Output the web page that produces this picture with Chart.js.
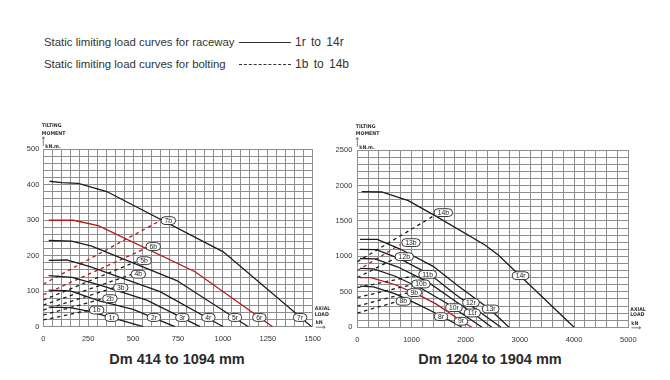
<!DOCTYPE html>
<html><head><meta charset="utf-8">
<script src="https://cdn.jsdelivr.net/npm/chart.js@4.4.0/dist/chart.umd.min.js"></script>
<style>
body{margin:0;width:670px;height:380px;background:#fff;position:relative;overflow:hidden;font-family:"Liberation Sans",Arial,sans-serif;}
.leg{position:absolute;font-size:11.4px;line-height:12px;color:#333;white-space:nowrap;}
.rng{font-size:12px;word-spacing:2px;}
.ttl{position:absolute;font-size:14.5px;line-height:16px;font-weight:bold;color:#2a2a2a;text-align:center;white-space:nowrap;}
canvas{position:absolute;top:0;}
</style></head><body>
<div class="leg" style="left:44px;top:35.5px">Static limiting load curves for raceway</div>
<div style="position:absolute;left:239px;top:42px;width:52px;border-top:1px solid #333"></div>
<div class="leg rng" style="left:295px;top:35.5px">1r to 14r</div>
<div class="leg" style="left:44px;top:58px">Static limiting load curves for bolting</div>
<div style="position:absolute;left:239px;top:64px;width:52px;border-top:1px dashed #333"></div>
<div class="leg rng" style="left:295px;top:58px">1b to 14b</div>
<div class="ttl" style="left:97px;width:160px;top:351px">Dm 414 to 1094 mm</div>
<div class="ttl" style="left:410px;width:160px;top:351px">Dm 1204 to 1904 mm</div>
<div style="position:absolute;left:0;top:0;width:335px;height:380px"><canvas id="c1"></canvas></div>
<div style="position:absolute;left:335px;top:0;width:335px;height:380px"><canvas id="c2"></canvas></div>
<script>
// ---- Left chart data (axial load kN, tilting moment kN.m) ----
const leftXTicks=[0,250,500,750,1000,1250,1500];
const leftYTicks=[0,100,200,300,400,500];
const r1=[[30,55],[150,54],[250,44],[370,27],[557,0]];
const r2=[[30,103],[150,101],[316,72],[500,49],[733,0]];
const r3=[[30,144],[160,139],[316,117],[576,75],[873,0]];
const r4=[[30,187],[130,188],[260,169],[650,99],[1002,0]];
const r5=[[30,243],[158,241],[269,227],[743,130],[1142,0]];
const r6=[[30,300],[167,300],[306,285],[845,155],[1277,0]];
const r7=[[35,410],[102,406],[195,404],[353,381],[1002,211],[1494,0]];
const b1=[[0,19],[262,47]];
const b2=[[0,33],[335,79]];
const b3=[[0,47],[395,110]];
const b4=[[0,61],[495,148]];
const b5=[[0,75],[515,183]];
const b6=[[0,90],[575,222]];
const b7=[[0,120],[640,296]];
const leftLabels=[['1r',381,26],['2r',616,26],['3r',774,26],['4r',919,26],['5r',1067,26],['6r',1203,26],['7r',1430,26],
 ['1b',297,47],['2b',371,79],['3b',431,110],['4b',529,148],['5b',561,186],['6b',612,226],['7b',696,299]];

// ---- Right chart data ----
const rightXTicks=[0,1000,2000,3000,4000,5000];
const rightYTicks=[0,500,1000,1500,2000,2500];
const r8=[[50,580],[300,570],[700,470],[1100,330],[1550,160],[1930,0]];
const r9=[[50,700],[250,700],[700,600],[1150,450],[1450,330],[1900,100],[2110,0]];
const r10=[[50,830],[300,825],[700,720],[1200,540],[1650,340],[2300,0]];
const r11=[[50,970],[330,965],[750,850],[1300,640],[1750,400],[2150,190],[2480,0]];
const r12=[[50,1100],[350,1095],[800,960],[1350,740],[1800,470],[2650,0]];
const r13=[[50,1240],[370,1240],[800,1100],[1400,860],[1850,590],[2450,250],[2800,0]];
const r14=[[80,1913],[450,1908],[941,1786],[1433,1575],[2355,1161],[2601,1020],[4000,0]];
const b8=[[0,200],[750,367]];
const b9=[[0,300],[950,489]];
const b10=[[0,420],[1070,611]];
const b11=[[0,560],[1190,747]];
const b12=[[0,700],[760,996]];
const b13=[[0,800],[800,1170]];
const b14=[[0,925],[1450,1590]];
const rightLabels=[['8r',1544,150],['9r',1913,85],['10r',1783,277],['11r',2122,202],['12r',2097,348],['13r',2460,258],['14r',3013,728],
 ['8b',849,367],['9b',1052,489],['10b',1175,611],['11b',1298,747],['12b',867,996],['13b',990,1194],['14b',1587,1617]];

const BLACK='#1c1c1c', RED='#b3191c', GRID='#8e8e8e';
function ds(arr,color,dashed){
  return {data:arr.map(p=>({x:p[0],y:p[1]})),borderColor:color,borderWidth:1.3,
    borderDash:dashed?[3.5,3.5]:[],pointRadius:0,fill:false,tension:0};
}
const labelPlugin={id:'pills',afterDatasetsDraw(chart,args,opts){
  const ctx=chart.ctx,xs=chart.scales.x,ys=chart.scales.y;
  ctx.save();
  ctx.font='6.8px "Liberation Sans",Arial,sans-serif';
  ctx.textAlign='center';ctx.textBaseline='middle';
  for(const [t,x,y] of opts.items){
    const px=xs.getPixelForValue(x),py=ys.getPixelForValue(y);
    const w=Math.max(ctx.measureText(t).width+7,13.5),h=7.8;
    ctx.beginPath();ctx.roundRect(px-w/2,py-h/2,w,h,3.9);
    ctx.fillStyle='#fff';ctx.fill();ctx.lineWidth=0.9;ctx.strokeStyle='#222';ctx.stroke();
    ctx.fillStyle='#222';ctx.fillText(t,px,py+0.3);
  }
  // axis titles
  const a=chart.chartArea;
  ctx.font='bold 5.2px "Liberation Sans Narrow","DejaVu Sans Condensed",Arial,sans-serif';
  ctx.textAlign='left';ctx.textBaseline='alphabetic';ctx.fillStyle='#333';
  ctx.fillText('TILTING',a.left-1.5,a.top-22.3);
  ctx.fillText('MOMENT',a.left-1.5,a.top-14.6);
  ctx.fillText('kN.m.',a.left+2,a.top-1.5);
  ctx.fillText('AXIAL',a.right+2,a.bottom-16.7);
  ctx.fillText('LOAD',a.right+2,a.bottom-11);
  ctx.fillText('kN',a.right+3,a.bottom-2.7);
  ctx.strokeStyle='#444';ctx.lineWidth=0.7;
  ctx.beginPath();ctx.moveTo(a.left,a.top-3);ctx.lineTo(a.left,a.top-12);ctx.stroke();
  ctx.beginPath();ctx.moveTo(a.left-1.3,a.top-10.5);ctx.lineTo(a.left,a.top-12.5);ctx.lineTo(a.left+1.3,a.top-10.5);ctx.stroke();
  ctx.beginPath();ctx.moveTo(a.right+3,a.bottom+0.5);ctx.lineTo(a.right+12,a.bottom+0.5);ctx.stroke();
  ctx.beginPath();ctx.moveTo(a.right+10.5,a.bottom-0.8);ctx.lineTo(a.right+12.5,a.bottom+0.5);ctx.lineTo(a.right+10.5,a.bottom+1.8);ctx.stroke();
  ctx.restore();
}};
function makeChart(id,cfg){
  return new Chart(document.getElementById(id),{
    type:'line',
    data:{datasets:cfg.sets},
    options:{responsive:true,maintainAspectRatio:false,animation:false,
      layout:{padding:cfg.pad},
      plugins:{legend:{display:false},tooltip:{enabled:false},pills:{items:cfg.labels}},
      scales:{
        x:{type:'linear',min:0,max:cfg.xTicks[cfg.xTicks.length-1],
          afterFit(s){s.height=18;},
          grid:{color:GRID,lineWidth:1,drawTicks:false},border:{color:GRID,width:1},
          ticks:{stepSize:cfg.xStep,autoSkip:false,maxRotation:0,padding:8,color:'#333',
            font:{size:7.5,family:'"Liberation Sans",Arial,sans-serif'},
            callback:v=>cfg.xTicks.includes(v)?String(v):''}},
        y:{type:'linear',min:0,max:cfg.yTicks[cfg.yTicks.length-1],
          afterFit(s){s.width=cfg.yw;},
          grid:{color:GRID,lineWidth:1,drawTicks:false},border:{color:GRID,width:1},
          ticks:{stepSize:cfg.yStep,autoSkip:false,padding:cfg.ypad,color:'#333',
            font:{size:7.5,family:'"Liberation Sans",Arial,sans-serif'},
            callback:v=>cfg.yTicks.includes(v)?String(v):''}}
      }
    },
    plugins:[labelPlugin]
  });
}
makeChart('c1',{
  sets:[ds(r1,BLACK),ds(r2,BLACK),ds(r3,BLACK),ds(r4,BLACK),ds(r5,BLACK),ds(r6,RED),ds(r7,BLACK),
        ds(b1,BLACK,1),ds(b2,BLACK,1),ds(b3,BLACK,1),ds(b4,BLACK,1),ds(b5,BLACK,1),ds(b6,RED,1),ds(b7,RED,1)],
  labels:leftLabels,xTicks:leftXTicks,yTicks:leftYTicks,xStep:50,yStep:20,yw:43.3,ypad:4,
  pad:{left:0,right:22.3,top:149.3,bottom:35.3}
});
makeChart('c2',{
  sets:[ds(r8,BLACK),ds(r9,RED),ds(r10,BLACK),ds(r11,BLACK),ds(r12,BLACK),ds(r13,BLACK),ds(r14,BLACK),
        ds(b8,BLACK,1),ds(b9,BLACK,1),ds(b10,BLACK,1),ds(b11,BLACK,1),ds(b12,BLACK,1),ds(b13,RED,1),ds(b14,BLACK,1)],
  labels:rightLabels,xTicks:rightXTicks,yTicks:rightYTicks,xStep:200,yStep:100,yw:22.3,ypad:5,
  pad:{left:0,right:41.7,top:150,bottom:34.7}
});
</script>
</body></html>
